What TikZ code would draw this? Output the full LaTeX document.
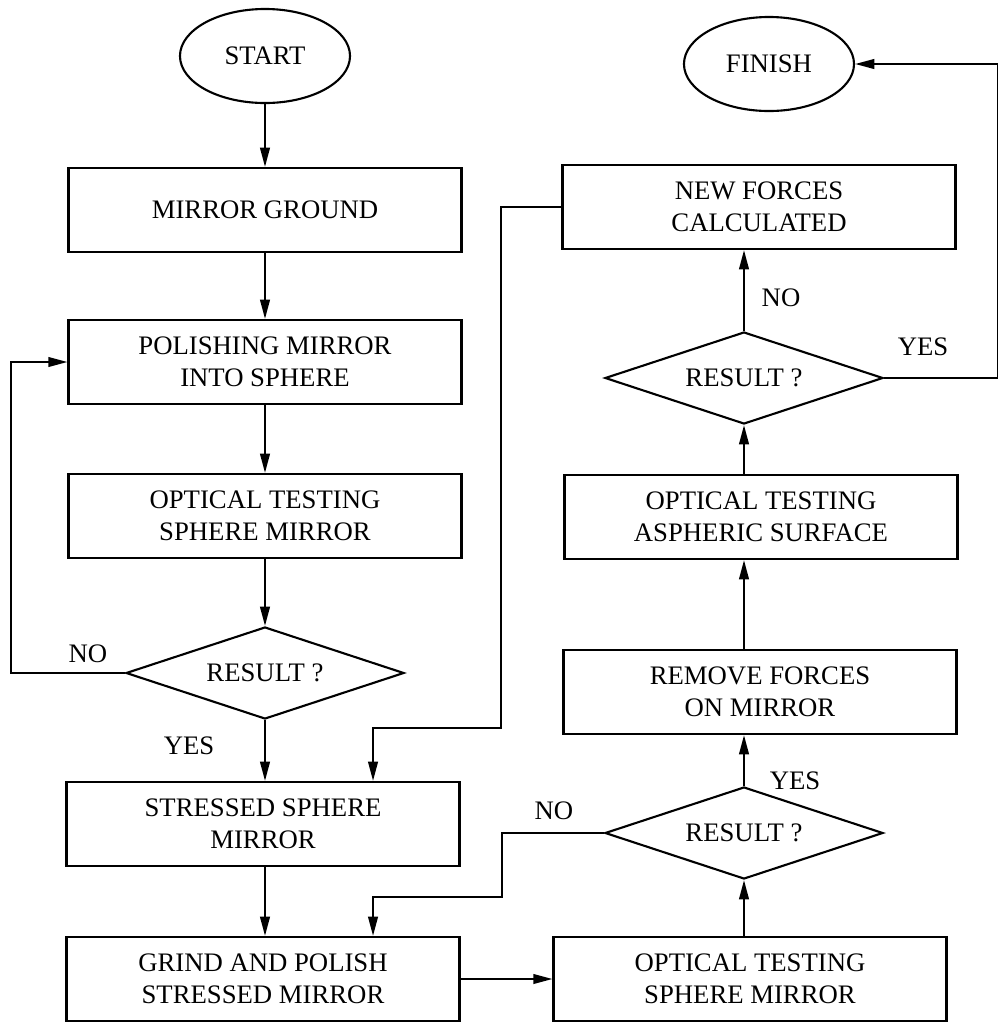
\documentclass[tikz,border=0pt]{standalone}
\usepackage{fontspec}
\setmainfont{Liberation Serif}
\usetikzlibrary{arrows.meta, shapes.geometric}

\begin{document}
\begin{tikzpicture}[x=0.025cm, y=-0.025cm,
    every node/.style={font=\fontsize{19}{23}\selectfont},
    box/.style={draw, line width=1.5pt, minimum width=9.82cm, minimum height=2.1cm, align=center, inner sep=0pt},
    oval/.style={draw, line width=1.5pt, ellipse, minimum width=4.25cm, minimum height=2.35cm, inner sep=0pt},
    test/.style={draw, line width=1.5pt, diamond, aspect=3, minimum width=6.95cm, minimum height=2.3cm, inner sep=0pt},
    flow/.style={line width=1.5pt, -{Triangle[length=4.8mm, width=2.4mm]}}]
    \useasboundingbox (0,0) rectangle (998,1022);

    % left column - sphere polishing
    \node[oval] (start) at (265,56) {START};
    \node[box] (ground) at (265,210) {MIRROR GROUND};
    \node[box] (polish) at (265,362) {POLISHING MIRROR\\INTO SPHERE};
    \node[box] (testA) at (265,516) {OPTICAL TESTING\\SPHERE MIRROR};
    \node[test] (resA) at (265,673) {RESULT ?};
    \node[box] (stress) at (263,824) {STRESSED SPHERE\\MIRROR};
    \node[box] (grind) at (263,979) {GRIND AND POLISH\\STRESSED MIRROR};

    % right column - testing loop
    \node[oval] (finish) at (769,64) {FINISH};
    \node[box] (newf) at (759,207) {NEW FORCES\\CALCULATED};
    \node[test] (resC) at (744,378) {RESULT ?};
    \node[box] (testC) at (761,517) {OPTICAL TESTING\\ASPHERIC SURFACE};
    \node[box] (remove) at (760,692) {REMOVE FORCES\\ON MIRROR};
    \node[test] (resB) at (744,833) {RESULT ?};
    \node[box] (testB) at (750,979) {OPTICAL TESTING\\SPHERE MIRROR};

    \coordinate (bendA) at (501,728);
    \coordinate (bendB) at (502,897);

    % branch labels
    \node (noA) at (88,654) {NO};
    \node (yesA) at (189,746) {YES};
    \node (noC) at (781,298) {NO};
    \node (yesC) at (923,347) {YES};
    \node (yesB) at (795,781) {YES};
    \node (noB) at (554,811) {NO};

    \draw[flow] (start) -- (ground);
    \draw[flow] (ground) -- (polish);
    \draw[flow] (polish) -- (testA);
    \draw[flow] (testA) -- (resA);
    \draw[flow] (resA.west) -- ++(-114,0) |- (polish.west);
    \draw[flow] (resA.south) -- (resA.south |- stress.north);
    \draw[flow] (resA.south |- stress.south) -- (resA.south |- grind.north);
    \draw[flow] (grind) -- (testB);

    \draw[flow] (resB.south |- testB.north) -- (resB.south);
    \draw[flow] (resB.north) -- (resB.north |- remove.south);
    \draw[flow] (resB.north |- remove.north) -- (resB.north |- testC.south);
    \draw[flow] (resC.south |- testC.north) -- (resC.south);
    \draw[flow] (resC.north) -- (resC.north |- newf.south);
    \draw[flow] (resC.east) -- ++(114,0) |- (finish.east);

    \draw[flow] (newf.west) -| (bendA) -| ([xshift=2.75cm]stress.north);
    \draw[flow] (resB.west) -| (bendB) -| ([xshift=2.75cm]grind.north);
\end{tikzpicture}
\end{document}
